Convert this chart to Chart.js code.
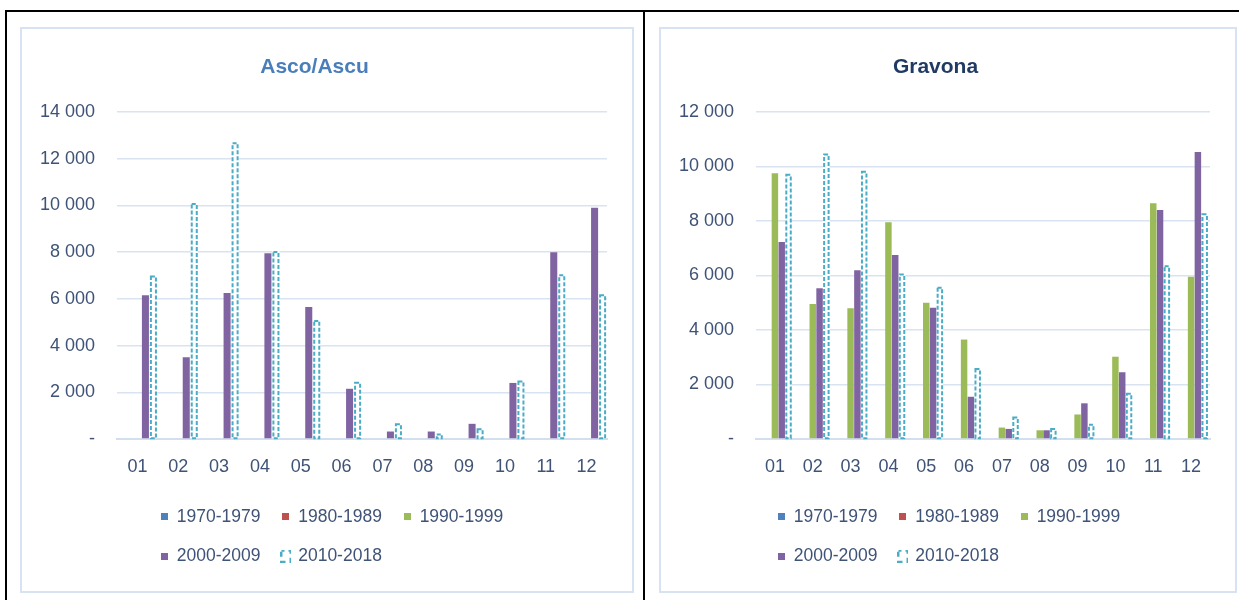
<!DOCTYPE html>
<html lang="fr">
<head>
  <meta charset="UTF-8" />
  <title>Asco/Ascu - Gravona</title>
  <script src="https://cdn.jsdelivr.net/npm/chart.js@4.4.1/dist/chart.umd.min.js"></script>
  <style>
    body {
      margin: 0;
      width: 1239px;
      height: 600px;
      overflow: hidden;
      position: relative;
      background: #fff;
    }
    .frame {
      position: absolute;
      left: 5px;
      top: 10px;
      width: 1300px;
      height: 700px;
      border-top: 2px solid #000;
      border-left: 2px solid #000;
    }
    .divider {
      position: absolute;
      left: 643px;
      top: 10px;
      width: 2px;
      height: 600px;
      background: #000;
    }
    .panel {
      position: absolute;
      top: 27px;
      height: 566px;
      border: 2px solid #d7e2f2;
      box-sizing: border-box;
      background: #fff;
    }
    #p1 { left: 20px; width: 614px; }
    #p2 { left: 659px; width: 578px; }
    .panel canvas { display: block; }
  </style>
</head>

<body>
  <div class="frame"></div>
  <div class="divider"></div>
  <div class="panel" id="p1"><canvas id="asco" width="610" height="562"></canvas></div>
  <div class="panel" id="p2"><canvas id="gravona" width="574" height="562"></canvas></div>

  <script>
    // data
    var mois = ["01", "02", "03", "04", "05", "06", "07", "08", "09", "10", "11", "12"];
    var periodes = ["1970-1979", "1980-1989", "1990-1999", "2000-2009", "2010-2018"];

    var ascoTicks = [0, 2000, 4000, 6000, 8000, 10000, 12000, 14000];
    var asco1970 = [null, null, null, null, null, null, null, null, null, null, null, null];
    var asco1980 = [null, null, null, null, null, null, null, null, null, null, null, null];
    var asco1990 = [null, null, null, null, null, null, null, null, null, null, null, null];
    var asco2000 = [6150, 3500, 6250, 7950, 5650, 2150, 320, 320, 650, 2400, 8000, 9900];
    var asco2010 = [7000, 10100, 12700, 8050, 5100, 2450, 670, 240, 455, 2500, 7050, 6200];

    var gravTicks = [0, 2000, 4000, 6000, 8000, 10000, 12000];
    var grav1970 = [null, null, null, null, null, null, null, null, null, null, null, null];
    var grav1980 = [null, null, null, null, null, null, null, null, null, null, null, null];
    var grav1990 = [9750, 4950, 4800, 7950, 5000, 3650, 420, 320, 900, 3020, 8650, 5950];
    var grav2000 = [7230, 5530, 6190, 6750, 4820, 1550, 370, 320, 1310, 2450, 8400, 10530];
    var grav2010 = [9730, 10480, 9840, 6070, 5590, 2610, 830, 400, 560, 1700, 6380, 8280];

    var couleurs = ["#4f81bd", "#c0504d", "#9bbb59", "#8064a2", "#4bacc6"];
    var texte = "#3f5377";
    var grille = "#d9e3f1";

    Chart.defaults.font.family = "'Liberation Sans', Arial, sans-serif";

    function icone(color, dashed) {
      var c = document.createElement("canvas");
      var g = c.getContext("2d");
      if (dashed) {
        c.width = 11;
        c.height = 13;
        g.strokeStyle = color;
        g.lineWidth = 2;
        g.setLineDash([5, 4]);
        g.lineDashOffset = 2;
        g.strokeRect(1, 1, 9, 11);
      } else {
        c.width = 7;
        c.height = 7;
        g.fillStyle = color;
        g.fillRect(0, 0, 7, 7);
      }
      return c;
    }

    // Chart.js bars have no dashed border, so stroke one over each bar element
    var barresPointillees = {
      id: "barresPointillees",
      afterDatasetsDraw: function (chart) {
        var ctx = chart.ctx;
        chart.data.datasets.forEach(function (ds, i) {
          if (!ds.dashed || !chart.isDatasetVisible(i)) return;
          ctx.save();
          ctx.strokeStyle = ds.dashColor;
          ctx.lineWidth = 2;
          ctx.setLineDash([4, 2]);
          chart.getDatasetMeta(i).data.forEach(function (bar) {
            var p = bar.getProps(["x", "y", "base", "width"], true);
            if (p.y == null || isNaN(p.y)) return;
            var left = p.x - p.width / 2;
            ctx.strokeRect(left + 1, p.y + 1, p.width - 2, p.base - p.y - 1);
          });
          ctx.restore();
        });
      }
    };

    // nudge the legend block sideways (Excel centres it in the whole box)
    var decalageLegende = {
      id: "decalageLegende",
      afterLayout: function (chart, args, opts) {
        var dx = opts.x || 0;
        chart.legend.left += dx;
        chart.legend.right += dx;
      }
    };

    function milliers(v) {
      if (v === 0) return "-";
      return String(v).replace(/\B(?=(\d{3})+(?!\d))/g, " ");
    }

    function graphique(id, titre, couleurTitre, series, ticks, catPct, barPct, dxLegende) {
      var datasets = series.map(function (data, i) {
        var dashed = i === 4;
        return {
          label: periodes[i],
          data: data,
          backgroundColor: dashed ? "#ffffff" : couleurs[i],
          borderWidth: 0,
          dashed: dashed,
          dashColor: couleurs[i],
          icon: icone(couleurs[i], dashed),
          categoryPercentage: catPct,
          barPercentage: barPct
        };
      });

      return new Chart(document.getElementById(id), {
        type: "bar",
        data: { labels: mois, datasets: datasets },
        plugins: [barresPointillees, decalageLegende],
        options: {
          responsive: false,
          animation: false,
          layout: { padding: { left: 0, right: 25, top: 0, bottom: 16 } },
          scales: {
            x: {
              grid: { display: false, drawTicks: false },
              border: { display: true, color: "#d3deee", width: 2 },
              ticks: { color: texte, font: { size: 18 }, padding: 17 },
              afterFit: function (s) { s.height = 47; }
            },
            y: {
              min: ticks[0],
              max: ticks[ticks.length - 1],
              grid: { color: grille, lineWidth: 1.5, drawTicks: false },
              border: { display: false },
              ticks: {
                stepSize: ticks[1] - ticks[0],
                color: texte,
                font: { size: 18 },
                padding: 22,
                callback: milliers
              },
              afterFit: function (s) { s.width = 95; }
            }
          },
          plugins: {
            tooltip: { enabled: false },
            decalageLegende: { x: dxLegende },
            title: {
              display: true,
              text: titre,
              color: couleurTitre,
              font: { size: 21, weight: "bold" },
              padding: { top: 25.5, bottom: 32.3 }
            },
            legend: {
              position: "bottom",
              align: "start",
              fullSize: false,
              labels: {
                usePointStyle: true,
                boxWidth: 7,
                boxHeight: 7,
                padding: 22,
                color: texte,
                font: { size: 17.5 },
                generateLabels: function (chart) {
                  return chart.data.datasets.map(function (ds, i) {
                    return {
                      text: ds.label,
                      pointStyle: ds.icon,
                      fillStyle: ds.dashColor,
                      strokeStyle: ds.dashColor,
                      lineWidth: 0,
                      fontColor: texte,
                      hidden: !chart.isDatasetVisible(i),
                      datasetIndex: i
                    };
                  });
                }
              }
            }
          }
        }
      });
    }

    graphique("asco", "Asco/Ascu", "#4a7ebb",
      [asco1970, asco1980, asco1990, asco2000, asco2010], ascoTicks, 0.98, 0.88, 22);
    graphique("gravona", "Gravona", "#1f3a63",
      [grav1970, grav1980, grav1990, grav2000, grav2010], gravTicks, 0.9, 0.95, 0);
  </script>
</body>

</html>
